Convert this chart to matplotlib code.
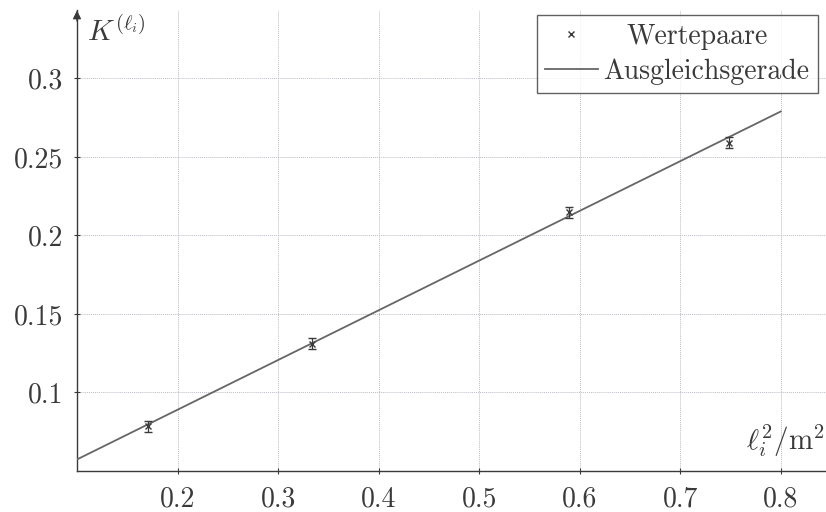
import numpy as np
import matplotlib
matplotlib.use("Agg")
import matplotlib.pyplot as plt
from matplotlib.lines import Line2D

plt.rcParams['font.family'] = 'serif'
plt.rcParams['font.serif'] = ['cmr10']
plt.rcParams['mathtext.fontset'] = 'cm'
plt.rcParams['axes.formatter.use_mathtext'] = True

# --- data ---
l_sq = [0.1706, 0.3340, 0.5896, 0.7488]
K_vals = [0.0784, 0.1312, 0.2148, 0.2592]
K_err = [0.0035, 0.0035, 0.0035, 0.0035]
fit_slope = 0.3166
fit_icpt = 0.0257
fit_x = [0.1, 0.8]
x_ticks = [0.2, 0.3, 0.4, 0.5, 0.6, 0.7, 0.8]
y_ticks = [0.1, 0.15, 0.2, 0.25, 0.3]
y_tick_labels = ['0.1', '0.15', '0.2', '0.25', '0.3']

ink = '#3a3a3a'
line_col = '#666666'
DPI = 100

fig = plt.figure(figsize=(8.26, 5.12), dpi=DPI)
ax = fig.add_axes([77 / 826, 41 / 512, 749 / 826, 461 / 512])

fx = np.array(fit_x)
ax.plot(fx, fit_slope * fx + fit_icpt, color=line_col, lw=1.3, zorder=3)
ax.errorbar(l_sq, K_vals, yerr=K_err, fmt='x', color=ink, ms=5, mew=1.0,
            elinewidth=0.9, capsize=3, capthick=0.9, zorder=4)

ax.set_xlim(0.1, 0.845)
ax.set_ylim(0.05, 0.3436)
ax.set_xticks(x_ticks)
ax.set_xticklabels([f'{v:g}' for v in x_ticks])
ax.set_yticks(y_ticks)
ax.set_yticklabels(y_tick_labels)
ax.grid(True, color='#bcbcc6', ls=(0, (1, 1)), lw=0.7)
ax.tick_params(labelsize=20, colors=ink, length=4, width=0.8, direction='inout')
ax.tick_params(axis='y', pad=8)
ax.tick_params(axis='x', pad=9)

for side in ['top', 'right']:
    ax.spines[side].set_visible(False)
for side in ['left', 'bottom']:
    ax.spines[side].set_color(ink)
    ax.spines[side].set_linewidth(1.0)

# arrow tip on the y axis
ax.annotate('', xy=(0, 1.005), xytext=(0, 0.97), xycoords='axes fraction',
            arrowprops=dict(arrowstyle='-|>', color=ink, lw=1.0,
                            mutation_scale=12), annotation_clip=False)

ax.text(0.014, 0.985, r'$K^{(\ell_i)}$', transform=ax.transAxes,
        fontsize=21, color=ink, ha='left', va='top')
ax.text(0.999, 0.025, r'$\ell_i^2/\mathrm{m}^2$', transform=ax.transAxes,
        fontsize=21, color=ink, ha='right', va='bottom')

h_pts = Line2D([], [], ls='none', marker='x', color=ink, ms=5, mew=1.0)
h_fit = Line2D([], [], color=line_col, lw=1.3)
leg = ax.legend([h_pts, h_fit], ['Wertepaare', 'Ausgleichsgerade'],
                loc='upper right', bbox_to_anchor=(0.989, 0.989), fontsize=20,
                frameon=True, fancybox=False, edgecolor=ink, handlelength=1.9,
                handletextpad=0.2, borderpad=0.3, labelspacing=0.3,
                borderaxespad=0)
leg.get_frame().set_linewidth(1.0)
for t in leg.get_texts():
    t.set_color(ink)

# centre the shorter legend entry in the text column, like pgfplots does
fig.canvas.draw()
rend = fig.canvas.get_renderer()
widths = [t.get_window_extent(rend).width for t in leg.get_texts()]
wmax = max(widths)
for t, w in zip(leg.get_texts(), widths):
    t.set_x((wmax - w) / 2 * 72 / DPI)

fig.savefig('out.png', dpi=DPI)
